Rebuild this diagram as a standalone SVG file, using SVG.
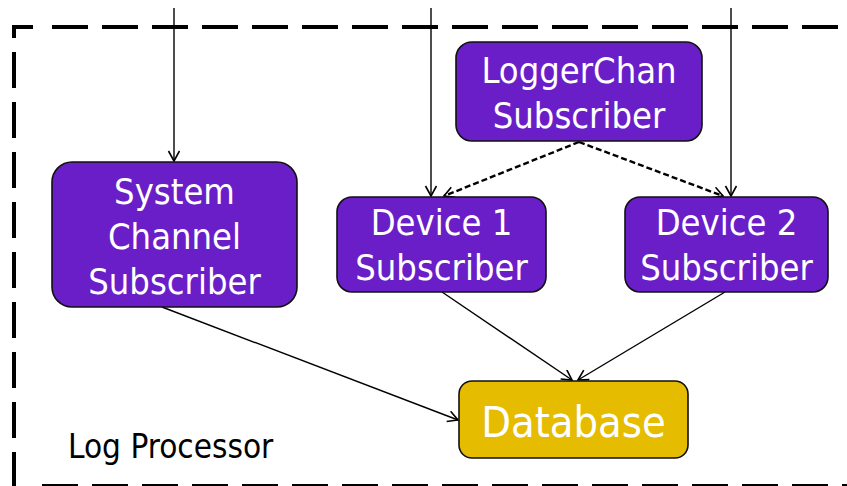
<svg xmlns="http://www.w3.org/2000/svg" width="847" height="486" viewBox="0 0 847 486">
  <style>
    .node { fill: #6A1EC8; stroke: #111; stroke-width: 1.6; }
    .db { fill: #E6BC00; stroke: #111; stroke-width: 1.6; }
    .label { font-family: "DejaVu Sans Condensed", "DejaVu Sans", sans-serif; fill: #fff; text-anchor: middle; font-size: 36px; }
    .frame { fill: none; stroke: #000; stroke-width: 4; }
    .dash { stroke-dasharray: 36 14; }
    .edge { fill: none; stroke: #000; stroke-width: 1.4; marker-end: url(#arrow); }
    .dotted { stroke-width: 2.4; stroke-dasharray: 6 3; }
    .caption { font-family: "DejaVu Sans Condensed", "DejaVu Sans", sans-serif; fill: #000; font-size: 33px; }
  </style>
  <defs>
    <marker id="arrow" markerUnits="userSpaceOnUse" markerWidth="14" markerHeight="14" refX="11" refY="6" orient="auto">
      <path d="M1,0.5 L11,6 L1,11.5" fill="none" stroke="#000" stroke-width="1.6"/>
    </marker>
  </defs>

  <!-- process boundary -->
  <g id="boundary">
    <path class="frame" d="M14,38 V27 H33"/>
    <path class="frame dash" d="M52,27 H880"/>
    <path class="frame dash" d="M14,52 V486 H25"/>
    <path class="frame dash" d="M42,486 H880"/>
    <text class="caption" x="68" y="458">Log Processor</text>
  </g>

  <!-- connectors -->
  <g id="connectors">
    <path class="edge" d="M174,8 V161"/>
    <path class="edge" d="M431,8 V196"/>
    <path class="edge" d="M731,8 V196"/>
    <path class="edge dotted" d="M579,142 L444,196"/>
    <path class="edge dotted" d="M579,142 L723,196"/>
    <path class="edge" d="M162,307 L458,420"/>
    <path class="edge" d="M442,292 L572,380"/>
    <path class="edge" d="M725,292 L578,380"/>
  </g>

  <g id="system-channel-subscriber">
    <rect class="node" x="52" y="162" width="245" height="145" rx="20"/>
    <text class="label" x="174.5" y="204">System</text>
    <text class="label" x="174.5" y="249">Channel</text>
    <text class="label" x="174.5" y="294">Subscriber</text>
  </g>

  <g id="loggerchan-subscriber">
    <rect class="node" x="456" y="42" width="246" height="99" rx="16"/>
    <text class="label" x="579" y="83">LoggerChan</text>
    <text class="label" x="579" y="128">Subscriber</text>
  </g>

  <g id="device1-subscriber">
    <rect class="node" x="337" y="197" width="209" height="95" rx="15"/>
    <text class="label" x="441.5" y="235">Device 1</text>
    <text class="label" x="441.5" y="280">Subscriber</text>
  </g>

  <g id="device2-subscriber">
    <rect class="node" x="625" y="197" width="203" height="95" rx="15"/>
    <text class="label" x="726.5" y="235">Device 2</text>
    <text class="label" x="726.5" y="280">Subscriber</text>
  </g>

  <g id="database">
    <rect class="db" x="459" y="381" width="229" height="77" rx="13"/>
    <text class="label" x="573.5" y="437" style="font-size:43px">Database</text>
  </g>
</svg>
